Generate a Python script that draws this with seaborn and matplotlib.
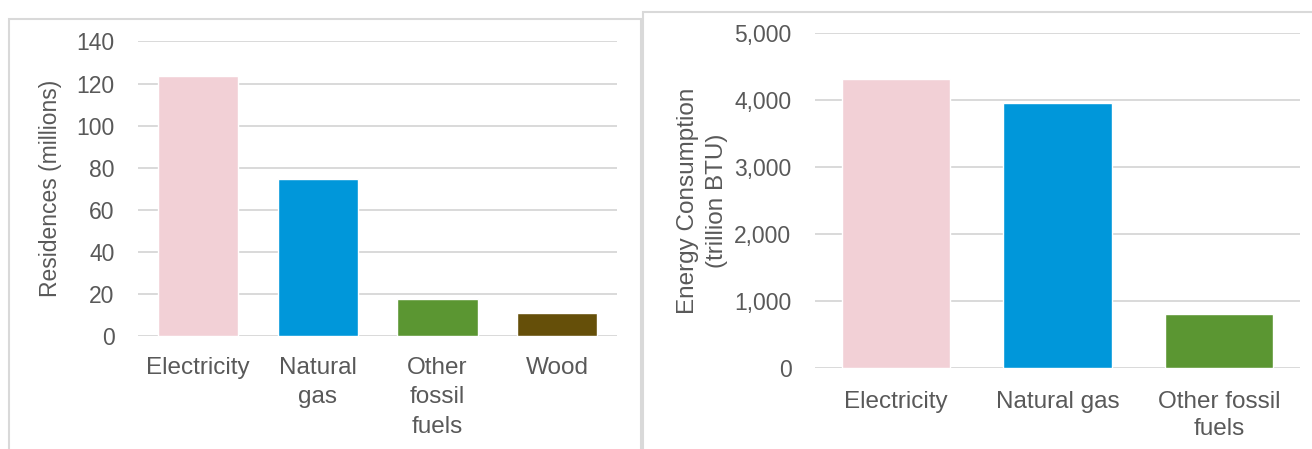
import pandas as pd
import matplotlib
matplotlib.use("Agg")
import matplotlib.pyplot as plt
import seaborn as sns
from matplotlib.patches import Rectangle
from matplotlib.ticker import FuncFormatter, MultipleLocator

# Left panel: number of residences by main heating fuel
resCategories = ["Electricity", "Natural\ngas", "Other\nfossil\nfuels", "Wood"]
resValues = [123.5, 74.5, 17.5, 11.0]
resColors = ["#F2D0D6", "#0097DA", "#5B9632", "#654F09"]

# Right panel: energy consumption by fuel
energyCategories = ["Electricity", "Natural gas", "Other fossil\nfuels"]
energyValues = [4315, 3945, 810]
energyColors = ["#F2D0D6", "#0097DA", "#5B9632"]

textColor = "#595959"
gridColor = "#D9D9D9"


def styleAxis(ax, ymax, step, xpad, lineSpacing):
    ax.set_ylim(0, ymax)
    ax.yaxis.set_major_locator(MultipleLocator(step))
    ax.yaxis.grid(True, color=gridColor, linewidth=1.4)
    ax.xaxis.grid(False)
    ax.set_axisbelow(True)
    for s in ax.spines.values():
        s.set_visible(False)
    ax.tick_params(axis="y", length=0, pad=17, labelsize=16.5, labelcolor=textColor)
    ax.tick_params(axis="x", length=0, pad=xpad, labelsize=17.5, labelcolor=textColor)
    for t in ax.get_xticklabels():
        t.set_linespacing(lineSpacing)
    ax.set_xlabel("")


def main():
    sns.set_theme(style="white")
    plt.rcParams["font.family"] = ["Liberation Sans", "DejaVu Sans"]

    fig = plt.figure(figsize=(13.12, 4.49), dpi=100)

    # panel frames
    fig.patches.append(Rectangle((9 / 1312, -0.02), (641 - 9) / 1312, 0.9577 + 0.02,
                                 transform=fig.transFigure, fill=False,
                                 edgecolor=gridColor, linewidth=1.5))
    fig.patches.append(Rectangle((643 / 1312, -0.02), 0.6, 0.973 + 0.02,
                                 transform=fig.transFigure, fill=False,
                                 edgecolor=gridColor, linewidth=1.5))

    axL = fig.add_axes([0.1052, 0.2517, 0.3651, 0.656])
    axR = fig.add_axes([0.6212, 0.1793, 0.3697, 0.7483])

    dfL = pd.DataFrame({"fuel": resCategories, "value": resValues})
    sns.barplot(data=dfL, x="fuel", y="value", hue="fuel", palette=resColors,
                width=0.67, saturation=1, legend=False, ax=axL)
    styleAxis(axL, 140, 20, xpad=15, lineSpacing=1.45)
    axL.set_xlim(-0.5, 3.5)
    axL.set_ylabel("Residences (millions)", fontsize=16.5, color=textColor)
    axL.yaxis.set_label_coords(-0.158, 0.5)

    dfR = pd.DataFrame({"fuel": energyCategories, "value": energyValues})
    sns.barplot(data=dfR, x="fuel", y="value", hue="fuel", palette=energyColors,
                width=0.67, saturation=1, legend=False, ax=axR)
    styleAxis(axR, 5000, 1000, xpad=16, lineSpacing=1.3)
    axR.set_xlim(-0.5, 2.5)
    axR.yaxis.set_major_formatter(FuncFormatter(lambda v, p: f"{v:,.0f}"))
    axR.set_ylabel("Energy Consumption\n(trillion BTU)", fontsize=17.5,
                   color=textColor, linespacing=1.4)
    axR.yaxis.set_label_coords(-0.18, 0.5)

    fig.savefig("out.png", dpi=100, facecolor="white")
    plt.close(fig)


if __name__ == "__main__":
    main()
